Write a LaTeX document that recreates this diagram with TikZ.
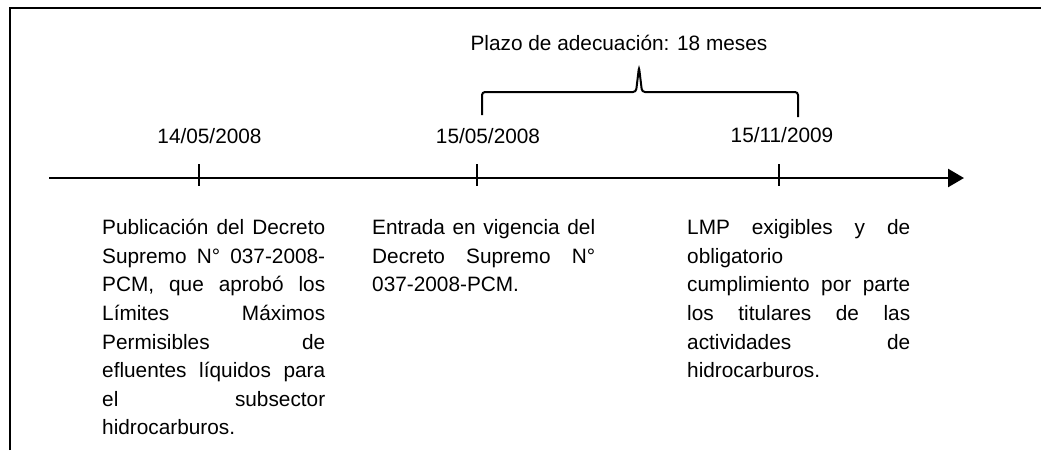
\documentclass[tikz,border=0pt]{standalone}
\usepackage{fontspec}
\setmainfont{Liberation Sans}
\usetikzlibrary{arrows.meta}

\newcommand{\jline}[1]{\makebox[223pt][s]{\spaceskip=0pt\xspaceskip=0pt\relax #1}}

\begin{document}
\begin{tikzpicture}[x=1pt,y=-1pt,
  date/.style={font=\fontsize{20.8}{24}\selectfont,anchor=base,inner sep=0},
  block/.style={font=\fontsize{20.8}{28.6}\selectfont,text width=223pt,align=left,anchor=north west,inner sep=0},
  tick/.style={line width=2.4pt},
  brace/.style={line width=2pt,rounded corners=3pt}]
\useasboundingbox (0,0) rectangle (1041,450);
% frame
\coordinate (fa) at (10,450);
\coordinate (fb) at (10,8);
\coordinate (fc) at (1041,8);
\draw[line width=2pt] (fa) -- (fb) -- (fc);
% time axis
\coordinate (start) at (49,178);
\coordinate (end) at (964,178);
\draw[line width=2.6pt,-{Triangle[length=16pt,width=18pt]}] (start) -- (end);
\foreach \n/\x in {a/199,b/477,c/779} {
  \coordinate (t\n) at (\x,178);
  \draw[tick] ([yshift=14pt]t\n) -- ([yshift=-8pt]t\n);
}
% dates
\node[date] (d1) at (209.5,143) {14/05/2008};
\node[date] (d2) at (488,143) {15/05/2008};
\node[date] (d3) at (782,142) {15/11/2009};
% plazo
\node[date] (plazo) at (619,50) {Plazo de adecuación: 18 meses};
\coordinate (bl) at (482,115);
\coordinate (br) at (798,117);
\coordinate (tip) at (639,67);
\draw[brace] (bl) |- (636,92) -- (tip) -- (642,92) -| (br);
% texts
\node[block] (pub) at (102,214.5) {\strut\jline{Publicación del Decreto}\\
  \jline{Supremo N° 037-2008-}\\
  \jline{PCM, que aprobó los}\\
  \jline{Límites Máximos}\\
  \jline{Permisibles de}\\
  \jline{efluentes líquidos para}\\
  \jline{el subsector}\\
  hidrocarburos.};
\node[block] (vig) at (372,214.5) {\strut\jline{Entrada en vigencia del}\\
  \jline{Decreto Supremo N°}\\
  037-2008-PCM.};
\node[block] (lmp) at (687,214.5) {\strut\jline{LMP exigibles y de}\\
  obligatorio\\
  \jline{cumplimiento por parte}\\
  \jline{los titulares de las}\\
  \jline{actividades de}\\
  hidrocarburos.};
\end{tikzpicture}
\end{document}
